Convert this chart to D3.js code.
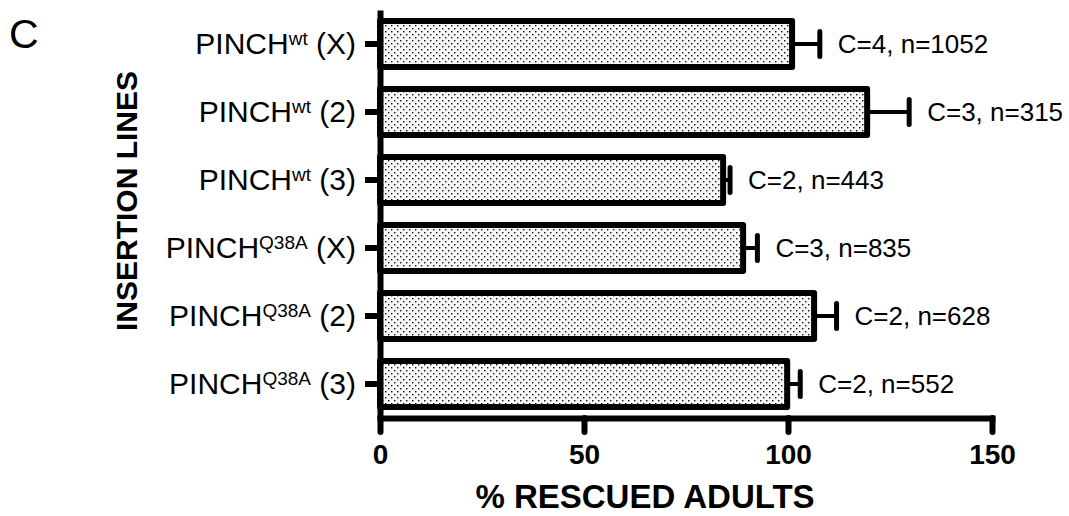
<!DOCTYPE html>
<html>
<head>
<meta charset="utf-8">
<script src="https://cdn.jsdelivr.net/npm/d3@7"></script>
<style>
  body { margin: 0; background: #fff; }
  svg { font-family: "Liberation Sans", Arial, sans-serif; }
  .axis path, .axis line { stroke: #000; stroke-width: 6; }
  .axis .domain { stroke-linecap: square; }
</style>
</head>
<body>
<div id="chart"></div>
<script>

// insertion lines (genotype superscript + chromosome)
var genotypes = ["wt", "wt", "wt", "Q38A", "Q38A", "Q38A"];
var chromosomes = ["X", "2", "3", "X", "2", "3"];

// % rescued adults, mean and error
var means = [101, 119.4, 84.1, 89, 106.4, 99.8];
var errors = [6.8, 10.3, 1.7, 3.5, 5.5, 3.2];

// crosses and number of flies
var crosses = [4, 3, 2, 3, 2, 2];
var counts = [1052, 315, 443, 835, 628, 552];

var xTicks = [0, 50, 100, 150];

var width = 1069, height = 516;

var svg = d3.select("#chart")
    .append("svg")
    .attr("width", width)
    .attr("height", height);

// dotted fill for the bars
var pattern = svg.append("defs").append("pattern")
    .attr("id", "dots")
    .attr("patternUnits", "userSpaceOnUse")
    .attr("width", 6)
    .attr("height", 6);

pattern.append("rect")
    .attr("width", 6)
    .attr("height", 6)
    .attr("fill", "#f7f7f7");

pattern.append("rect")
    .attr("x", 1).attr("y", 1)
    .attr("width", 1.4).attr("height", 1.4)
    .attr("fill", "#111");

pattern.append("rect")
    .attr("x", 4).attr("y", 4)
    .attr("width", 1.4).attr("height", 1.4)
    .attr("fill", "#111");

var idx = d3.range(means.length);

// scales
var x = d3.scaleLinear()
    .domain([0, 150])
    .range([380, 992]);

var y = d3.scaleBand()
    .domain(idx)
    .range([10, 418])
    .paddingInner(0.32)
    .paddingOuter(0.16);

// bars
svg.selectAll(".bar")
    .data(idx)
    .enter().append("rect")
    .attr("class", "bar")
    .attr("x", x(0))
    .attr("y", function(i) { return y(i); })
    .attr("width", function(i) { return x(means[i]) - x(0); })
    .attr("height", y.bandwidth())
    .attr("fill", "url(#dots)")
    .attr("stroke", "#000")
    .attr("stroke-width", 6)
    .attr("stroke-linejoin", "round");

// error bars
svg.selectAll(".err")
    .data(idx)
    .enter().append("line")
    .attr("class", "err")
    .attr("x1", function(i) { return x(means[i]); })
    .attr("x2", function(i) { return x(means[i] + errors[i]); })
    .attr("y1", function(i) { return y(i) + y.bandwidth() / 2; })
    .attr("y2", function(i) { return y(i) + y.bandwidth() / 2; })
    .attr("stroke", "#000")
    .attr("stroke-width", 4);

svg.selectAll(".cap")
    .data(idx)
    .enter().append("line")
    .attr("class", "cap")
    .attr("x1", function(i) { return x(means[i] + errors[i]); })
    .attr("x2", function(i) { return x(means[i] + errors[i]); })
    .attr("y1", function(i) { return y(i) + y.bandwidth() / 2 - 12.5; })
    .attr("y2", function(i) { return y(i) + y.bandwidth() / 2 + 12.5; })
    .attr("stroke", "#000")
    .attr("stroke-width", 5)
    .attr("stroke-linecap", "round");

// C / n annotations
svg.selectAll(".note")
    .data(idx)
    .enter().append("text")
    .attr("class", "note")
    .attr("x", function(i) { return x(means[i] + errors[i]) + 18; })
    .attr("y", function(i) { return y(i) + y.bandwidth() / 2 + 9; })
    .style("font-size", "26px")
    .text(function(i) { return "C=" + crosses[i] + ", n=" + counts[i]; });

// y axis with superscript labels
var yAxis = d3.axisLeft(y)
    .tickSize(15)
    .tickSizeOuter(0)
    .tickPadding(9)
    .tickFormat("");

var gy = svg.append("g")
    .attr("class", "axis")
    .attr("transform", "translate(" + x(0) + ",0)")
    .call(yAxis);

gy.select(".domain").style("stroke-linecap", "butt");

gy.selectAll(".tick text")
    .attr("dy", null)
    .attr("y", 10)
    .style("font-size", "30px")
    .style("fill", "#000")
    .each(function(i) {
      var t = d3.select(this);
      t.append("tspan").text("PINCH");
      t.append("tspan")
        .attr("dy", -9)
        .style("font-size", "19px")
        .text(genotypes[i]);
      t.append("tspan")
        .attr("dy", 9)
        .text(" (" + chromosomes[i] + ")");
    });

// x axis
var xAxis = d3.axisBottom(x)
    .tickValues(xTicks)
    .tickSize(14)
    .tickSizeOuter(0)
    .tickPadding(12);

var gx = svg.append("g")
    .attr("class", "axis")
    .attr("transform", "translate(0,418)")
    .call(xAxis);

gx.selectAll(".tick line").attr("stroke-linecap", "round");

gx.selectAll(".tick text")
    .style("font-size", "28px")
    .style("font-weight", "bold")
    .style("fill", "#000");

// axis titles
svg.append("text")
    .attr("x", 645)
    .attr("y", 508)
    .attr("text-anchor", "middle")
    .style("font-size", "33px")
    .style("font-weight", "bold")
    .text("% RESCUED ADULTS");

svg.append("text")
    .attr("transform", "translate(137,201) rotate(-90)")
    .attr("text-anchor", "middle")
    .style("font-size", "30px")
    .style("font-weight", "bold")
    .text("INSERTION LINES");

// panel letter
svg.append("text")
    .attr("x", 9)
    .attr("y", 48)
    .style("font-size", "41px")
    .text("C");

</script>
</body>
</html>
